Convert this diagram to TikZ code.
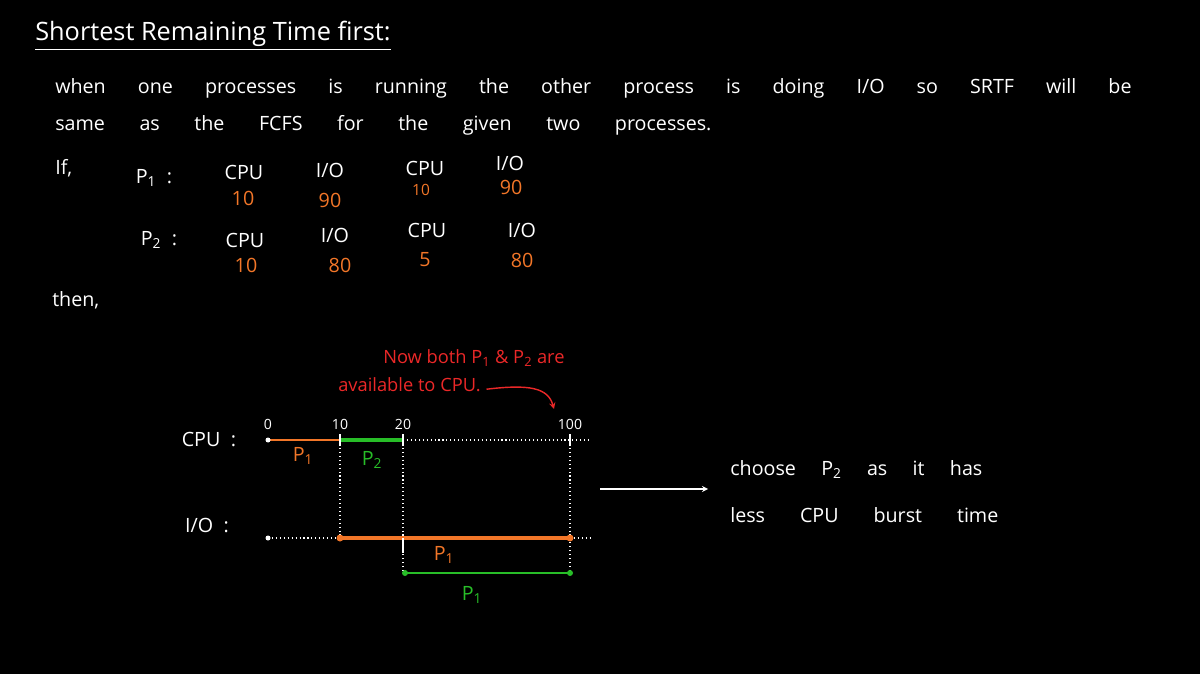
\documentclass[tikz,border=0pt]{standalone}
\usepackage{fontspec}
\setmainfont{Open Sans}
\definecolor{burstOrange}{RGB}{242,118,40}
\definecolor{burstGreen}{RGB}{40,190,40}
\definecolor{noteRed}{RGB}{235,40,40}
\begin{document}
\begin{tikzpicture}[x=0.025cm, y=-0.025cm, font=\fontsize{14}{17}\selectfont]
        \tikzset{
            chalk/.style={text=white, inner sep=0pt},
            burstNum/.style={text=burstOrange, inner sep=0pt},
            noteText/.style={text=noteRed, inner sep=0pt, anchor=west},
            tickLabel/.style={text=white, inner sep=0pt, font=\fontsize{10}{12}\selectfont},
            gridDots/.style={draw=white, dotted, line width=0.8pt},
            chalkLine/.style={draw=white, line width=0.9pt},
            orangeBar/.style={draw=burstOrange, line width=1.6pt},
            greenBar/.style={draw=burstGreen, line width=1.4pt}
        }

        \fill[black] (0,0) rectangle (1200,674);

        \node[chalk, anchor=west, font=\fontsize{18}{21}\selectfont] (title) at (35,34) {Shortest Remaining Time first:};
        \draw[chalkLine] ([yshift=-2pt]title.south west) -- ([yshift=-2pt]title.south east);

        \node[chalk, anchor=west] (lineOne) at (55,88) {\makebox[26.9cm][s]{when one processes is running the other process is doing I/O so SRTF will be}};
        \node[chalk, anchor=west] (lineTwo) at (55,125) {\makebox[16.4cm][s]{same as the FCFS for the given two processes.}};

        \node[chalk, anchor=west] (ifWord) at (55,168) {If,};
        \node[chalk] (procOne) at (154,178) {P\textsubscript{1} \;:};
        \node[chalk] (procTwo) at (159,240) {P\textsubscript{2} \;:};

        \node[chalk] (oneCpuA) at (244,172) {CPU};
        \node[burstNum] (oneCpuAVal) at (243,198) {10};
        \node[chalk] (oneIoA) at (330,170) {I/O};
        \node[burstNum] (oneIoAVal) at (330,200) {90};
        \node[chalk] (oneCpuB) at (425,168) {CPU};
        \node[burstNum, font=\fontsize{11}{13}\selectfont] (oneCpuBVal) at (421,190) {10};
        \node[chalk] (oneIoB) at (510,163) {I/O};
        \node[burstNum] (oneIoBVal) at (511,187) {90};

        \node[chalk] (twoCpuA) at (245,240) {CPU};
        \node[burstNum] (twoCpuAVal) at (246,265) {10};
        \node[chalk] (twoIoA) at (335,235) {I/O};
        \node[burstNum] (twoIoAVal) at (340,265) {80};
        \node[chalk] (twoCpuB) at (427,230) {CPU};
        \node[burstNum] (twoCpuBVal) at (425,260) {5};
        \node[chalk] (twoIoB) at (522,230) {I/O};
        \node[burstNum] (twoIoBVal) at (522,260) {80};

        \node[chalk, anchor=west] (thenWord) at (52,300) {then,};

        \node[noteText, font=\fontsize{13}{15}\selectfont] (noteOne) at (383,358) {Now both P\textsubscript{1} \& P\textsubscript{2} are};
        \node[noteText, font=\fontsize{13}{15}\selectfont] (noteTwo) at (338,385) {available to CPU.};
        \coordinate (noteTip) at (554,409);
        \draw[noteRed, line width=1pt, -stealth] ([xshift=4pt,yshift=-3pt]noteTwo.east) .. controls (530,384) and (548,388) .. (noteTip);

        \node[chalk] (cpuRow) at (209,440) {CPU \;:};
        \node[chalk] (ioRow) at (207,525) {I/O \;:};

        \coordinate (cpu0) at (268,440);
        \coordinate (cpu10) at (340,440);
        \coordinate (cpu20) at (403,440);
        \coordinate (cpu100) at (570,440);
        \coordinate (cpuEnd) at (590,440);
        \coordinate (io0) at (268,538);
        \coordinate (io10) at (340,538);
        \coordinate (io20) at (403,538);
        \coordinate (io100) at (570,538);
        \coordinate (ioEnd) at (590,538);
        \coordinate (back0) at (405,573);
        \coordinate (back100) at (570,573);

        \node[tickLabel] (mark0) at (268,424) {0};
        \node[tickLabel] (mark10) at (340,424) {10};
        \node[tickLabel] (mark20) at (403,424) {20};
        \node[tickLabel] (mark100) at (570,424) {100};

        \draw[gridDots] (cpu20) -- (cpuEnd);
        \draw[gridDots] (io0) -- (io10);
        \draw[gridDots] (io100) -- (ioEnd);
        \draw[gridDots] (cpu10) -- (io10);
        \draw[gridDots] (cpu20) -- (back0 -| cpu20);
        \draw[gridDots] (cpu100) -- (back100);

        \draw[orangeBar, line width=1pt] (cpu0) -- (cpu10);
        \draw[greenBar, line width=2.4pt] (cpu10) -- (cpu20);
        \draw[orangeBar, line width=2.2pt] (io10) -- (io100);
        \draw[greenBar] (back0) -- (back100);

        \foreach \t in {cpu10, cpu20, cpu100}
            \draw[chalkLine] ([yshift=4pt]\t) -- ([yshift=-4pt]\t);
        \draw[chalkLine] (io20) -- ([yshift=-11pt]io20);

        \fill[white] (cpu0) circle (2.5);
        \fill[white] (io0) circle (2.5);
        \fill[burstOrange] (io10) circle (3.5);
        \fill[burstOrange] (io100) circle (3.5);
        \fill[burstGreen] (back0) circle (3);
        \fill[burstGreen] (back100) circle (3);

        \node[text=burstOrange, inner sep=0pt] (cpuOneTag) at (303,456) {P\textsubscript{1}};
        \node[text=burstGreen, inner sep=0pt] (cpuTwoTag) at (372,460) {P\textsubscript{2}};
        \node[text=burstOrange, inner sep=0pt] (ioOneTag) at (444,555) {P\textsubscript{1}};
        \node[text=burstGreen, inner sep=0pt] (backOneTag) at (472,595) {P\textsubscript{1}};

        \coordinate (arrowTail) at (600,489);
        \coordinate (arrowHead) at (708,489);
        \draw[chalkLine, -stealth] (arrowTail) -- (arrowHead);

        \node[chalk, anchor=west] (reasonOne) at (730,470) {\makebox[6.3cm][s]{choose P\textsubscript{2} as it has}};
        \node[chalk, anchor=west] (reasonTwo) at (730,515) {\makebox[6.7cm][s]{less CPU burst time}};
    \end{tikzpicture}
\end{document}
